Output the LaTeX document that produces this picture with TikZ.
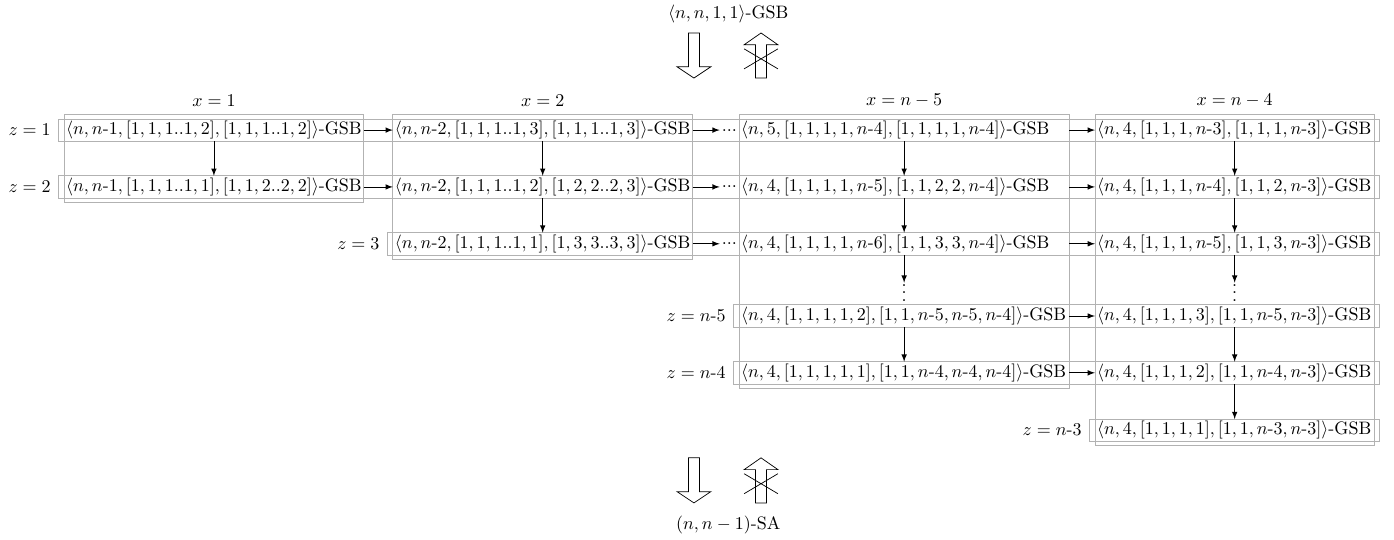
\documentclass[tikz,border=0pt]{standalone}
\usepackage{amsmath}
\usetikzlibrary{positioning,fit}

\newcommand{\hy}{\mbox{-}}
\newcommand{\gsb}[1]{$\langle #1\rangle$-GSB}
% hollow arrow pointing down
\newcommand{\impl}[1]{%
  \draw[shift={#1}] (-.107,0) -- (-.107,-.66) -- (-.33,-.66) -- (0,-.88)
    -- (.33,-.66) -- (.107,-.66) -- (.107,0) -- cycle;}
% hollow arrow pointing up, crossed out
\newcommand{\notimpl}[1]{%
  \draw[shift={#1}] (0,0) -- (.33,-.23) -- (.107,-.23) -- (.107,-.88)
    -- (-.107,-.88) -- (-.107,-.23) -- (-.33,-.23) -- cycle;
  \draw[shift={#1}] (-.33,-.31) -- (.33,-.7) (-.33,-.7) -- (.33,-.31);}
\newlength{\wthree}
\newlength{\wfour}

\begin{document}
\settowidth{\wthree}{\gsb{n, 4, [1, 1, 1, 1, 2], [1, 1, n\hy5, n\hy5, n\hy4]}}
\settowidth{\wfour}{\gsb{n, 4, [1, 1, 1, 3], [1, 1, n\hy5, n\hy3]}}
\addtolength{\wthree}{.5pt}
\addtolength{\wfour}{.5pt}
\begin{tikzpicture}
  [every node/.style={inner sep=1pt},
   rowbox/.style={draw=gray!60,inner xsep=3pt,inner ysep=0pt},
   colbox/.style={draw=gray!60,inner xsep=0pt,inner ysep=2.5pt},
   cola/.style={anchor=west},
   colc/.style={anchor=west,text width=\wthree,align=left},
   cold/.style={anchor=west,text width=\wfour,align=left},
   vdotsnode/.style={text height=9pt,text depth=0pt}]
  \useasboundingbox (0,0) rectangle (27.22,-10.53);

  \node (top) at (14.22,-.27) {\gsb{n, n, 1, 1}};
  \impl{(13.55,-.644)}
  \notimpl{(14.86,-.644)}

  % x = 1
  \node[cola] (a1) at (1.25,-2.54) {\gsb{n, n\hy1, [1, 1, 1..1, 2], [1, 1, 1..1, 2]}};
  \node[cola] (a2) at (1.25,-3.65) {\gsb{n, n\hy1, [1, 1, 1..1, 1], [1, 1, 2..2, 2]}};
  % x = 2
  \node[cola] (b1) at (7.67,-2.54) {\gsb{n, n\hy2, [1, 1, 1..1, 3], [1, 1, 1..1, 3]}};
  \node[cola] (b2) at (7.67,-3.65) {\gsb{n, n\hy2, [1, 1, 1..1, 2], [1, 2, 2..2, 3]}};
  \node[cola] (b3) at (7.67,-4.76) {\gsb{n, n\hy2, [1, 1, 1..1, 1], [1, 3, 3..3, 3]}};
  % x = n-5
  \node[colc] (c1) at (14.43,-2.54) {\gsb{n, 5, [1, 1, 1, 1, n\hy4], [1, 1, 1, 1, n\hy4]}};
  \node[colc] (c2) at (14.43,-3.65) {\gsb{n, 4, [1, 1, 1, 1, n\hy5], [1, 1, 2, 2, n\hy4]}};
  \node[colc] (c3) at (14.43,-4.76) {\gsb{n, 4, [1, 1, 1, 1, n\hy6], [1, 1, 3, 3, n\hy4]}};
  \node[colc] (c5) at (14.43,-6.17) {\gsb{n, 4, [1, 1, 1, 1, 2], [1, 1, n\hy5, n\hy5, n\hy4]}};
  \node[colc] (c6) at (14.43,-7.28) {\gsb{n, 4, [1, 1, 1, 1, 1], [1, 1, n\hy4, n\hy4, n\hy4]}};
  % x = n-4
  \node[cold] (d1) at (21.38,-2.54) {\gsb{n, 4, [1, 1, 1, n\hy3], [1, 1, 1, n\hy3]}};
  \node[cold] (d2) at (21.38,-3.65) {\gsb{n, 4, [1, 1, 1, n\hy4], [1, 1, 2, n\hy3]}};
  \node[cold] (d3) at (21.38,-4.76) {\gsb{n, 4, [1, 1, 1, n\hy5], [1, 1, 3, n\hy3]}};
  \node[cold] (d5) at (21.38,-6.17) {\gsb{n, 4, [1, 1, 1, 3], [1, 1, n\hy5, n\hy3]}};
  \node[cold] (d6) at (21.38,-7.28) {\gsb{n, 4, [1, 1, 1, 2], [1, 1, n\hy4, n\hy3]}};
  \node[cold] (d7) at (21.38,-8.40) {\gsb{n, 4, [1, 1, 1, 1], [1, 1, n\hy3, n\hy3]}};

  % dots
  \coordinate (vd) at (0,-5.72);
  \node[vdotsnode] (c4) at (c3 |- vd) {$\vdots$};
  \node[vdotsnode] (d4) at (d3 |- vd) {$\vdots$};
  \node[left=0pt of c1] (e1) {...};
  \node[left=0pt of c2] (e2) {...};
  \node[left=0pt of c3] (e3) {...};

  % boxes
  \node[rowbox,fit=(a1)(d1)] (r1) {};
  \node[rowbox,fit=(a2)(d2)] (r2) {};
  \node[rowbox,fit=(b3)(d3)] (r3) {};
  \node[rowbox,fit=(c5)(d5)] (r4) {};
  \node[rowbox,fit=(c6)(d6)] (r5) {};
  \node[rowbox,fit=(d7)] (r6) {};
  \node[colbox,fit=(a1)(a2)] (k1) {};
  \node[colbox,fit=(b1)(b3)] (k2) {};
  \node[colbox,fit=(c1)(c6)] (k3) {};
  \node[colbox,fit=(d1)(d7)] (k4) {};

  \node[left=3pt of r1] (lz1) {$z=1$};
  \node[left=3pt of r2] (lz2) {$z=2$};
  \node[left=3pt of r3] (lz3) {$z=3$};
  \node[left=3pt of r4] (lz4) {$z=n\hy5$};
  \node[left=3pt of r5] (lz5) {$z=n\hy4$};
  \node[left=3pt of r6] (lz6) {$z=n\hy3$};
  \node[above=3pt of k1] (lx1) {$x=1$};
  \node[above=3pt of k2] (lx2) {$x=2$};
  \node[above=3pt of k3] (lx3) {$x=n-5$};
  \node[above=3pt of k4] (lx4) {$x=n-4$};

  \foreach \from/\to in {a1/a2,b1/b2,b2/b3,c1/c2,c2/c3,c3/c4,c5/c6,
                         d1/d2,d2/d3,d3/d4,d5/d6,d6/d7,
                         a1/b1,a2/b2,b1/e1,b2/e2,b3/e3,
                         c1/d1,c2/d2,c3/d3,c5/d5,c6/d6}
    \draw[-latex] (\from) -- (\to);

  \impl{(13.55,-8.94)}
  \notimpl{(14.86,-8.94)}
  \node (bot) at (14.22,-10.25) {$(n, n-1)$-SA};

\end{tikzpicture}
\end{document}
